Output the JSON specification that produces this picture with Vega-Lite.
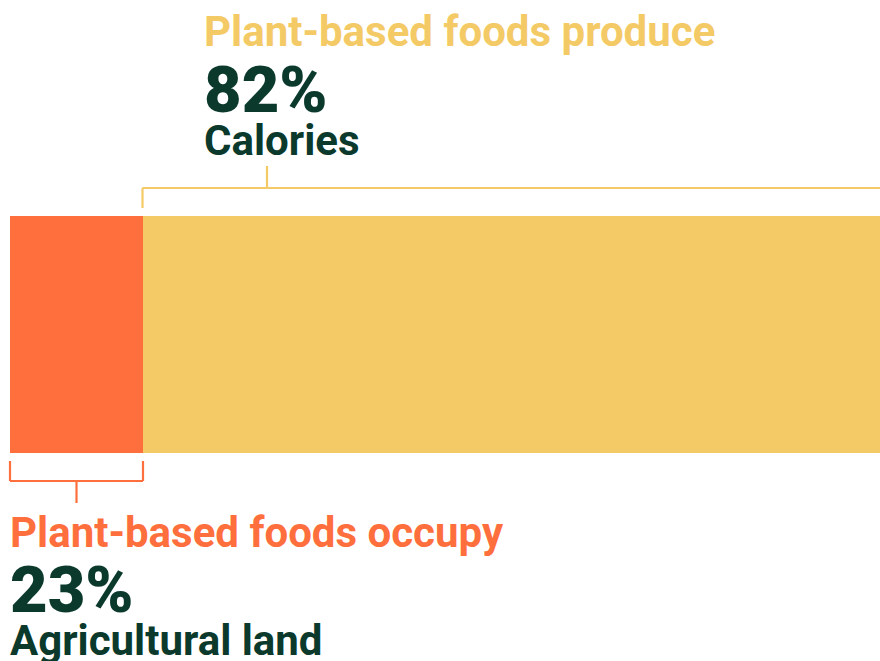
{
  "$schema": "https://vega.github.io/schema/vega-lite/v6.json",
  "width": 880,
  "height": 661,
  "autosize": {"type": "none"},
  "padding": 0,
  "background": "white",
  "config": {"view": {"stroke": null}, "font": "Roboto"},
  "datasets": {
    "segments": [
      {"segment": "Agricultural land", "group": "occupy", "start": 10, "end": 143},
      {"segment": "Calories", "group": "produce", "start": 143, "end": 880}
    ],
    "brackets": [
      {"group": "produce", "x1": 142.5, "x2": 880, "y1": 188, "y2": 188},
      {"group": "produce", "x1": 142.5, "x2": 142.5, "y1": 188, "y2": 208},
      {"group": "produce", "x1": 267, "x2": 267, "y1": 166, "y2": 188},
      {"group": "occupy", "x1": 10, "x2": 143, "y1": 481, "y2": 481},
      {"group": "occupy", "x1": 10, "x2": 10, "y1": 461, "y2": 481},
      {"group": "occupy", "x1": 143, "x2": 143, "y1": 461, "y2": 481},
      {"group": "occupy", "x1": 76.5, "x2": 76.5, "y1": 481, "y2": 503}
    ],
    "headlines": [
      {"label": "Plant-based foods produce", "group": "produce", "px": 204, "py": 46},
      {"label": "Plant-based foods occupy", "group": "occupy", "px": 10, "py": 547}
    ],
    "figures": [
      {"label": "82%", "group": "number", "px": 204, "py": 112},
      {"label": "23%", "group": "number", "px": 10, "py": 612}
    ],
    "captions": [
      {"label": "Calories", "group": "number", "px": 204, "py": 155},
      {"label": "Agricultural land", "group": "number", "px": 10, "py": 655}
    ]
  },
  "layer": [
    {
      "data": {"name": "segments"},
      "mark": {"type": "rect"},
      "encoding": {
        "x": {"field": "start", "type": "quantitative", "scale": {"domain": [0, 880], "nice": false, "zero": false}, "axis": null},
        "x2": {"field": "end"},
        "y": {"datum": 216, "type": "quantitative", "scale": {"domain": [0, 661], "reverse": true, "nice": false, "zero": false}, "axis": null},
        "y2": {"datum": 453},
        "color": {"field": "group", "type": "nominal", "scale": {"domain": ["produce", "occupy", "number"], "range": ["#F3CA65", "#FF6F3D", "#0B3A2C"]}, "legend": null}
      }
    },
    {
      "data": {"name": "brackets"},
      "mark": {"type": "rule", "strokeWidth": 2.2, "clip": true},
      "encoding": {
        "x": {"field": "x1", "type": "quantitative", "scale": {"domain": [0, 880], "nice": false, "zero": false}, "axis": null},
        "x2": {"field": "x2"},
        "y": {"field": "y1", "type": "quantitative", "scale": {"domain": [0, 661], "reverse": true, "nice": false, "zero": false}, "axis": null},
        "y2": {"field": "y2"},
        "color": {"field": "group", "type": "nominal"}
      }
    },
    {
      "data": {"name": "headlines"},
      "mark": {"type": "text", "align": "left", "baseline": "alphabetic", "fontSize": 42, "fontWeight": "bold", "font": "Roboto", "clip": true},
      "encoding": {
        "x": {"field": "px", "type": "quantitative", "scale": {"domain": [0, 880], "nice": false, "zero": false}, "axis": null},
        "y": {"field": "py", "type": "quantitative", "scale": {"domain": [0, 661], "reverse": true, "nice": false, "zero": false}, "axis": null},
        "text": {"field": "label"},
        "color": {"field": "group", "type": "nominal"}
      }
    },
    {
      "data": {"name": "figures"},
      "mark": {"type": "text", "align": "left", "baseline": "alphabetic", "fontSize": 65, "fontWeight": 900, "font": "Roboto", "clip": true},
      "encoding": {
        "x": {"field": "px", "type": "quantitative", "scale": {"domain": [0, 880], "nice": false, "zero": false}, "axis": null},
        "y": {"field": "py", "type": "quantitative", "scale": {"domain": [0, 661], "reverse": true, "nice": false, "zero": false}, "axis": null},
        "text": {"field": "label"},
        "color": {"field": "group", "type": "nominal"}
      }
    },
    {
      "data": {"name": "captions"},
      "mark": {"type": "text", "align": "left", "baseline": "alphabetic", "fontSize": 42, "fontWeight": "bold", "font": "Roboto", "clip": true},
      "encoding": {
        "x": {"field": "px", "type": "quantitative", "scale": {"domain": [0, 880], "nice": false, "zero": false}, "axis": null},
        "y": {"field": "py", "type": "quantitative", "scale": {"domain": [0, 661], "reverse": true, "nice": false, "zero": false}, "axis": null},
        "text": {"field": "label"},
        "color": {"field": "group", "type": "nominal"}
      }
    }
  ]
}
